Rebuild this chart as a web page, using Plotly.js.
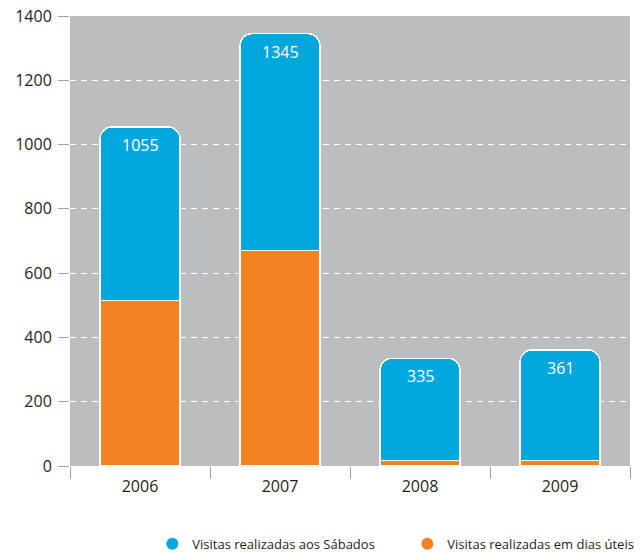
<!DOCTYPE html>
<html>
<head>
<meta charset="utf-8">
<script src="https://cdn.plot.ly/plotly-3.0.1.min.js"></script>
<style>html,body{margin:0;padding:0;background:#fff;}#chart{width:642px;height:553px;}</style>
</head>
<body>
<div id="chart"></div>
<script>
const years = ['2006', '2007', '2008', '2009'];
const totals = [1055, 1345, 335, 361];
const diasUteis = [515, 670, 17, 17];
const sabados = totals.map((t, i) => t - diasUteis[i]);
const seriesNames = ['Visitas realizadas aos Sábados', 'Visitas realizadas em dias úteis'];
const yTicks = [0, 200, 400, 600, 800, 1000, 1200, 1400];

const blue = '#00a7dc';
const orange = '#f58220';
const fontFam = '"Open Sans", "Noto Sans", sans-serif';

const traces = [
  {
    type: 'bar', x: years, y: diasUteis, name: seriesNames[1], showlegend: false,
    marker: {color: orange, line: {color: '#ffffff', width: 1.5}},
    hoverinfo: 'skip'
  },
  {
    type: 'bar', x: years, y: sabados, name: seriesNames[0], showlegend: false,
    marker: {color: blue, line: {color: '#ffffff', width: 1.5}},
    hoverinfo: 'skip'
  },
  {
    type: 'scatter', mode: 'markers', x: [null], y: [null], name: seriesNames[0],
    marker: {color: blue, size: 12, symbol: 'circle'}
  },
  {
    type: 'scatter', mode: 'markers', x: [null], y: [null], name: seriesNames[1],
    marker: {color: orange, size: 12, symbol: 'circle'}
  }
];

const annotations = years.map((yr, i) => ({
  x: i, y: totals[i], xref: 'x', yref: 'y', text: String(totals[i]),
  showarrow: false, yanchor: 'middle', yshift: -18,
  font: {color: '#ffffff', size: 16, family: fontFam}
}));

const layout = {
  width: 642, height: 553,
  margin: {l: 70, r: 12, t: 16, b: 87, autoexpand: false},
  paper_bgcolor: '#ffffff',
  plot_bgcolor: '#bcbdbf',
  barmode: 'stack',
  bargap: 0.43,
  barcornerradius: 12,
  font: {family: fontFam, color: '#231f20', size: 16},
  annotations: annotations,
  xaxis: {
    type: 'category', categoryorder: 'array', categoryarray: years,
    tickson: 'boundaries', ticks: 'outside', ticklen: 12,
    tickcolor: '#a0a0a0', tickwidth: 1, showline: false, showgrid: false,
    ticklabelstandoff: 9,
    tickfont: {size: 16, color: '#231f20'}, fixedrange: true, automargin: false
  },
  yaxis: {
    range: [0, 1400], tickvals: yTicks, ticks: 'outside', ticklen: 11,
    tickcolor: '#a0a0a0', tickwidth: 1, showline: false, zeroline: false,
    showgrid: true, gridcolor: '#ffffff', gridwidth: 1.2, griddash: '6px,5px',
    ticklabelstandoff: 3,
    tickfont: {size: 16, color: '#231f20'}, fixedrange: true, automargin: false
  },
  legend: {
    orientation: 'h', traceorder: 'normal', x: 0.147, xanchor: 'left', y: -0.173, yanchor: 'middle',
    font: {size: 13, color: '#231f20'}, entrywidth: 210, entrywidthmode: 'pixels',
    itemclick: false, itemdoubleclick: false
  },
  showlegend: true
};

Plotly.newPlot('chart', traces, layout, {displayModeBar: false, staticPlot: true});
</script>
</body>
</html>
